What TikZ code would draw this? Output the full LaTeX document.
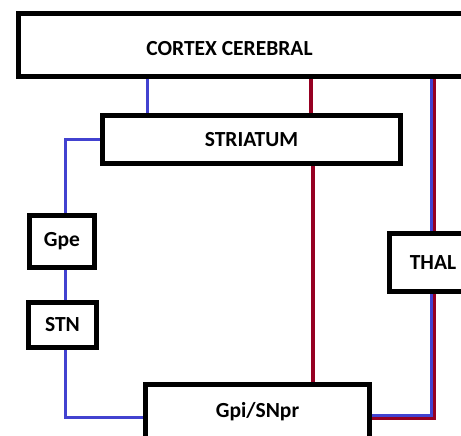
\documentclass[tikz,border=0pt]{standalone}
\usepackage{fontspec}
\setmainfont{Carlito}
\usetikzlibrary{positioning}

\definecolor{pathblue}{RGB}{66,66,208}
\definecolor{pathred}{RGB}{150,0,34}

\tikzset{
    nucleus/.style={draw, line width=5pt, inner sep=0pt, font=\fontsize{21.5}{23}\selectfont\bfseries},
    label text/.style={inner sep=0pt, font=\fontsize{21.5}{23}\selectfont\bfseries},
    direct/.style={draw=pathblue, line width=3pt},
    indirect/.style={draw=pathred, line width=3.2pt},
}

\begin{document}
\begin{tikzpicture}[x=1pt,y=-1pt]
    \clip (0,0) rectangle (461,436);
    % boxes
    \node[nucleus, minimum width=480pt, minimum height=63pt, anchor=west] (cortex) at (15.5,45) {};
    \node[label text] (cortexlbl) at (229.5,48.8) {CORTEX CEREBRAL};
    \node[nucleus, minimum width=298pt, minimum height=48pt] (striatum) at (251.5,139.5) {STRIATUM};
    \node[nucleus, minimum width=65pt, minimum height=52pt] (gpe) at (62,241.5) {Gpe};
    \node[nucleus, minimum width=68pt, minimum height=45pt] (stn) at (62.5,325) {STN};
    \node[nucleus, minimum width=87pt, minimum height=58pt] (thal) at (433,262.5) {THAL};
    \node[nucleus, minimum width=224pt, minimum height=55pt] (gpi) at (257.5,412) {Gpi/SNpr};
    % columns and rows of the connectors
    \coordinate (cb) at (147,0);
    \coordinate (cr) at (311,0);
    \coordinate (sr) at (313,0);
    \coordinate (cg) at (65.5,0);
    \coordinate (tb) at (431.2,0);
    \coordinate (tr) at (434.3,0);
    \coordinate (rowstn) at (0,417.3);
    \coordinate (rowtb) at (0,415.3);
    \coordinate (rowtr) at (0,418.7);
    % connectors
    \draw[direct] (cortex.south -| cb) -- (striatum.north -| cb);
    \draw[indirect] (cortex.south -| cr) -- (striatum.north -| cr);
    \draw[indirect] (striatum.south -| sr) -- (gpi.north -| sr);
    \draw[direct] (striatum.west) -| (gpe.north -| cg);
    \draw[direct] (gpe.south -| cg) -- (stn.north -| cg);
    \draw[direct] (stn.south -| cg) |- (gpi.west |- rowstn);
    \draw[indirect] (cortex.south -| tr) -- (thal.north -| tr);
    \draw[direct] (cortex.south -| tb) -- (thal.north -| tb);
    \draw[indirect] (thal.south -| tr) |- (gpi.east |- rowtr);
    \draw[direct] (thal.south -| tb) |- (gpi.east |- rowtb);
\end{tikzpicture}
\end{document}
